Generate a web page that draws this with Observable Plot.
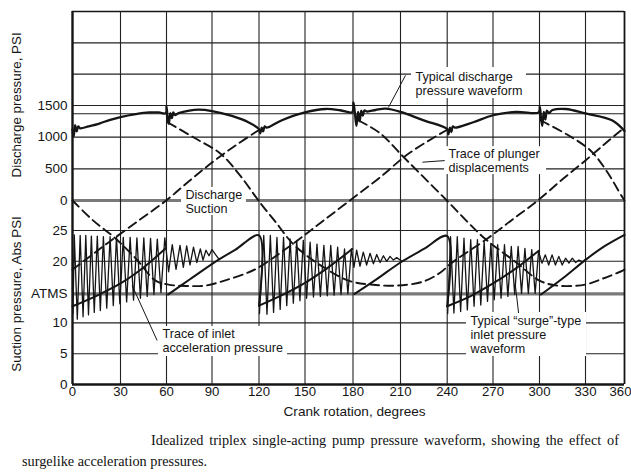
<!DOCTYPE html>
<html><head><meta charset="utf-8">
<script src="https://cdn.jsdelivr.net/npm/d3@7"></script>
<script src="https://cdn.jsdelivr.net/npm/@observablehq/plot@0.6"></script>
<style>
html,body{margin:0;padding:0;background:#fff;}
body{width:631px;height:476px;overflow:hidden;position:relative;}
.cap{position:absolute;left:22px;width:597px;font-family:"Liberation Serif","Times New Roman",serif;font-size:14.3px;line-height:21px;color:#111;white-space:nowrap;}
#cap1{top:430px;text-indent:129px;text-align:justify;text-align-last:justify;white-space:normal;}
#cap2{top:451px;}
</style></head>
<body><div id="chart"></div><div id="cap1" class="cap"></div><div id="cap2" class="cap"></div>
<script>
// ---------- axes / ticks ----------
const angles = [0,30,60,90,120,150,180,210,240,270,300,330,360];
const dischargeTicks = [0,500,1000,1500];
const dischargeGrid = [0,500,1000,1370,1500,2000,2500,3000];
const suctionTicks = [0,5,10,14.7,20,25];
const suctionTickLabels = ["0","5","10","ATMS","20","25"];
const suctionGrid = [0,5,10,14.7,20,25];

// ---------- discharge pressure waveform [deg, psi] ----------
const dischargeWave = [[0,1120],[0.7,1010],[1.6,1190],[2.6,1090],[3.6,1170],[4.8,1140],[10,1170],[16.8,1215],[23,1270],[30,1318],[40,1365],[48.7,1391],[55,1390],[59.5,1378],
[60,1490],[60.8,1280],[61.5,1210],[62.5,1380],[63.5,1300],[64.5,1390],[65.5,1350],[68,1380],[75,1420],[81,1434],[90,1413],[102.7,1335],[113.2,1236],[120,1127],
[120.8,1060],[121.8,1150],[122.7,1090],[123.7,1170],[125,1150],[134.6,1264],[150,1391],[163,1445],[172,1425],[179.5,1395],
[180.3,1550],[181.2,1380],[182.2,1180],[183.2,1400],[184.2,1250],[185.2,1420],[186.2,1340],[187.2,1420],[189,1405],[194.3,1429],[200.6,1450],[210,1400],[224.9,1264],[240,1127],
[240.8,1045],[241.8,1150],[242.7,1080],[243.7,1170],[245,1150],[257.1,1236],[270,1346],[285,1400],[299.5,1391],
[300.2,1483],[301,1300],[301.8,1180],[302.8,1400],[303.8,1280],[304.8,1420],[306,1380],[308.5,1429],[317.1,1445],[330,1375],[350.7,1264],[360,1099]];

// ---------- plunger displacement traces [deg, % of stroke] ----------
const plunger1a = [[0,50],[13,38],[26.9,27.5],[40,15.9],[52.8,3.1],[61.3,0.8],[73,0],[85.7,0.2],[98,3.1],[111.4,7.2],[119.7,10.7],[145.1,26.4],[160,36.9],[178,50],[197,63],[215.3,76.5],[239.2,89.5]];
const plunger1b = [[300.8,95.1],[318,87.2],[333.8,78.2],[346,66.9],[357.8,52.5],[360,50]];
const plunger2 = [[60.9,94],[78,85.5],[95.3,76.5],[108,64],[120.6,48.8],[131,37],[142.6,24],[160,11.8],[177.1,3.1],[191.4,0.8],[208.1,0.2],[224.8,2.6],[235.7,7.8],[242.4,13],[267.3,28.1],[283,39],[298.9,50],[315,62],[330,72.6],[345,82],[357.2,89.5]];
const plunger3a = [[0,9.5],[10,16.5],[22.5,25.2],[41,37.5],[59.8,50],[75,61],[90,71.4],[105,81],[119.5,89.5]];
const plunger3b = [[183.6,95.1],[197,88],[211,75.4],[225,63],[239.8,50],[252,38.5],[264.6,27.5],[285,13.6],[300,3.1],[311.5,0.2],[329.8,0.8],[343.5,4.3],[358.6,8.9],[360,9.5]];

// ---------- inlet acceleration pressure ramps [deg, psi abs] ----------
const rampA1 = [[0,12.7],[15,14.4],[30,16.4],[45,19.0],[59.5,22.1]];
const rampB1 = [[61,14.6],[75,17.0],[94.5,20.3],[105,21.9],[120,24.2],[120,12.8]];
const rampA2 = [[120,12.8],[135,14.5],[150,16.5],[165,19.1],[179.5,22.0]];
const rampB2 = [[181,14.7],[195,17.1],[210,19.8],[225,22.0],[240,24.1],[240,12.7]];
const rampA3 = [[240,12.7],[255,14.3],[270,16.4],[285,18.9],[299.5,21.7]];
const rampB3 = [[301,14.6],[315,17.2],[331,20.4],[345,22.5],[360,24.3]];

// ---------- surge-type inlet pressure waveform [deg, psi abs] ----------
const surge1 = [[0.3,11.5],[1.1,24.3],[3.0,10.6],[4.8,24.2],[6.6,11.0],[8.3,24.2],[10.0,11.3],[11.8,24.1],[13.6,11.7],[15.5,24.1],[17.4,12.0],[19.3,24.0],[21.4,12.4],[23.5,24.0],[25.5,12.8],[27.5,24.0],[29.6,13.1],[31.8,23.9],[34.0,13.4],[36.3,23.9],[38.5,13.7],[40.7,23.8],[43.0,14.0],[45.2,23.8],[47.4,14.3],[49.6,23.7],[51.8,14.6],[54.0,23.6],[56.4,14.9],[58.9,23.8],
[61.4,18.3],[63.8,22.7],[66.3,18.7],[68.9,22.6],[71.1,19.0],[73.3,22.5],[75.5,19.4],[77.8,22.3],[80.0,19.8],[82.3,22.0],[84.1,20.2],[86.0,21.8],[88.0,20.9],[90.0,21.9],[94.5,20.3]];
const surge2 = [[120.3,11.5],[123.1,24.2],[125.2,11.4],[127.4,24.2],[129.5,11.7],[131.7,23.9],[133.8,12.2],[136.0,23.9],[138.1,12.8],[140.3,23.65],[142.4,13.2],[144.6,23.4],[146.7,13.6],[148.9,23.4],[151.0,14.0],[153.2,23.1],[155.3,14.2],[157.5,22.8],[159.6,14.3],[161.8,22.6],[163.9,14.4],[166.1,22.6],[168.2,14.5],[170.4,22.3],[172.5,14.6],[174.7,22.0],[176.8,14.7],[179.0,22.0],
[180.6,19.0],[182.3,21.8],[184.4,19.2],[186.5,21.5],[188.6,19.4],[190.8,21.3],[192.9,19.6],[195.0,21.1],[197.1,19.8],[199.2,20.9],[201.3,20.0],[203.4,20.8],[205.5,20.2],[207.6,20.6],[211,20.0]];
const surge3 = [[240.3,11.5],[242.2,24.0],[244.4,11.6],[246.6,24.0],[248.8,11.85],[251.0,23.75],[253.2,12.1],[255.4,23.5],[257.6,12.7],[259.8,23.5],[262.0,12.9],[264.2,23.2],[266.4,13.5],[268.6,22.9],[270.8,13.75],[273.0,22.7],[275.2,14.0],[277.4,22.7],[279.6,14.3],[281.8,22.4],[284.0,14.6],[286.2,22.4],[288.4,14.8],[290.6,22.1],[292.8,14.8],[295.0,21.9],[297.2,14.8],[299.4,21.6],
[301.6,19.7],[303.8,21.05],[306.0,19.4],[308.2,21.05],[310.4,19.4],[312.6,20.8],[314.8,19.4],[317.0,20.5],[319.2,19.7],[321.4,20.5],[323.6,19.8],[325.8,20.2],[328.0,19.9],[330.5,20.4]];

// ---------- texts ----------
const xTitle = "Crank rotation, degrees";
const yTitleTop = "Discharge pressure, PSI";
const yTitleBottom = "Suction pressure, Abs PSI";
const captionLines = ["Idealized triplex single-acting pump pressure waveform, showing the effect of","surgelike acceleration pressures."];

// annotation anchors in chart coordinates (deg, combined-scale units)
const notes = [
  {label: "Typical discharge\npressure waveform", a: 219.6, u: 48.46},
  {label: "Trace of plunger\ndisplacements", a: 240.8, u: 36.3},
  {label: "Discharge\nSuction", a: 72.5, u: 29.78},
  {label: "Trace of inlet\nacceleration pressure", a: 57.4, u: 7.14},
  {label: "Typical \u201Csurge\u201D-type\ninlet pressure\nwaveform", a: 255.3, u: 8.12}
];
const masks = [
  {a1: 217.1, a2: 291.6, u1: 46.1, u2: 51.06},
  {a1: 238.3, a2: 304.6, u1: 34.1, u2: 38.5},
  {a1: 69.9, a2: 112.0, u1: 27.5, u2: 32.05},
  {a1: 54.8, a2: 138.6, u1: 4.55, u2: 9.42},
  {a1: 252.6, a2: 330.8, u1: 4.55, u2: 11.7}
];
const leaders = [
  {a1: 213.2, u1: 49.8, a2: 202.4, u2: 44.7},
  {a1: 224.1, u1: 36.05, a2: 238.4, u2: 36.3},
  {a1: 37.6, u1: 16.07, a2: 53.9, u2: 7.14},
  {a1: 284.5, u1: 16.0, a2: 286.5, u2: 11.6}
];

// ---------- combined vertical scale: suction psi 0-25 below, discharge psi above ----------
const fromSuction = p => p;
const fromDischarge = p => 30 + p / 100;
const fromStroke = s => 16 + s * 0.28;
const rows = (arr, key, conv) => arr.map(([a, v]) => ({a, u: conv(v), key}));

const hThin = [...suctionGrid.filter(v => v !== 0 && v !== 14.7).map(fromSuction),
               ...dischargeGrid.filter(v => v !== 0 && v !== 3000).map(fromDischarge)];
const hThick = [fromSuction(14.7), fromDischarge(0)];

const yTickU = [...suctionTicks.map(fromSuction), ...dischargeTicks.map(fromDischarge)];
const yTickLabel = new Map(yTickU.map((u, i) => [u, i < suctionTicks.length ? suctionTickLabels[i] : String(dischargeTicks[i - suctionTicks.length])]));

const plungerRows = [...rows(plunger1a,"p1a",fromStroke),...rows(plunger1b,"p1b",fromStroke),...rows(plunger2,"p2",fromStroke),...rows(plunger3a,"p3a",fromStroke),...rows(plunger3b,"p3b",fromStroke)];
const rampRows = [...rows(rampA1,"a1",fromSuction),...rows(rampB1,"b1",fromSuction),...rows(rampA2,"a2",fromSuction),...rows(rampB2,"b2",fromSuction),...rows(rampA3,"a3",fromSuction),...rows(rampB3,"b3",fromSuction)];
const surgeRows = [...rows(surge1,"s1",fromSuction),...rows(surge2,"s2",fromSuction),...rows(surge3,"s3",fromSuction)];
const dischargeRows = rows(dischargeWave,"d",fromDischarge);

const ink = "#151515";
const chart = Plot.plot({
  width: 631, height: 425,
  marginLeft: 72, marginRight: 7, marginTop: 11, marginBottom: 41,
  style: {fontFamily: "'Liberation Sans', Arial, sans-serif", fontSize: "13.5px", color: ink, background: "#fff"},
  x: {type: "linear", domain: angles, range: [72,120,166,211.5,258.5,304.5,352.5,400,446.7,492.5,539,585,624]},
  y: {type: "linear", domain: [0,25,30,45,60], range: [384,230,200,105,11]},
  marks: [
    Plot.ruleY(hThin, {stroke: "#222", strokeWidth: 1.1}),
    Plot.ruleY(hThick, {stroke: "#7a7a7a", strokeWidth: 3.2}),
    Plot.ruleY([fromDischarge(3000)], {stroke: ink, strokeWidth: 1.6}),
    Plot.ruleX(angles.slice(1, -1), {stroke: "#222", strokeWidth: 1.1}),
    Plot.rect(masks, {x1: "a1", x2: "a2", y1: "u1", y2: "u2", fill: "white"}),
    Plot.ruleX([360], {stroke: ink, strokeWidth: 1.8}),
    Plot.ruleX([0], {stroke: ink, strokeWidth: 2.4}),
    Plot.ruleY([fromSuction(0)], {stroke: ink, strokeWidth: 2.4}),
    Plot.line(surgeRows, {x: "a", y: "u", z: "key", stroke: ink, strokeWidth: 1.3}),
    Plot.line(plungerRows, {x: "a", y: "u", z: "key", stroke: ink, strokeWidth: 1.9, strokeDasharray: "9,5", curve: "catmull-rom"}),
    Plot.line(rampRows, {x: "a", y: "u", z: "key", stroke: ink, strokeWidth: 2, curve: "catmull-rom"}),
    Plot.line(dischargeRows, {x: "a", y: "u", stroke: ink, strokeWidth: 2.3, curve: "catmull-rom"}),
    Plot.link(leaders, {x1: "a1", y1: "u1", x2: "a2", y2: "u2", stroke: ink, strokeWidth: 1}),
    Plot.text(notes, {x: "a", y: "u", text: "label", textAnchor: "start", lineAnchor: "middle", lineHeight: 1.1, fontSize: 12.6, fill: ink}),
    Plot.axisY({ticks: yTickU, tickFormat: d => yTickLabel.get(d), tickSize: 0, tickPadding: 5, label: null, fontSize: 13.5}),
    Plot.axisX({ticks: angles.slice(0, -1), tickFormat: d => String(d), tickSize: 0, tickPadding: 2, label: null, fontSize: 13.2}),
    Plot.axisX({ticks: angles.slice(-1), tickFormat: d => String(d), tickSize: 0, tickPadding: 2, label: null, fontSize: 13.2, dx: -4}),
    Plot.text([xTitle], {x: 181, y: -4.4, text: d => d, fontSize: 13.6, fill: ink, lineAnchor: "middle"}),
    Plot.text([yTitleTop], {x: -35, y: 45.1, text: d => d, rotate: -90, fontSize: 13.4, fill: ink, lineAnchor: "middle"}),
    Plot.text([yTitleBottom], {x: -35, y: 14.7, text: d => d, rotate: -90, fontSize: 13.4, fill: ink, lineAnchor: "middle"})
  ]
});
document.getElementById("chart").append(chart);
document.getElementById("cap1").textContent = captionLines[0];
document.getElementById("cap2").textContent = captionLines[1];
</script>
</body></html>
